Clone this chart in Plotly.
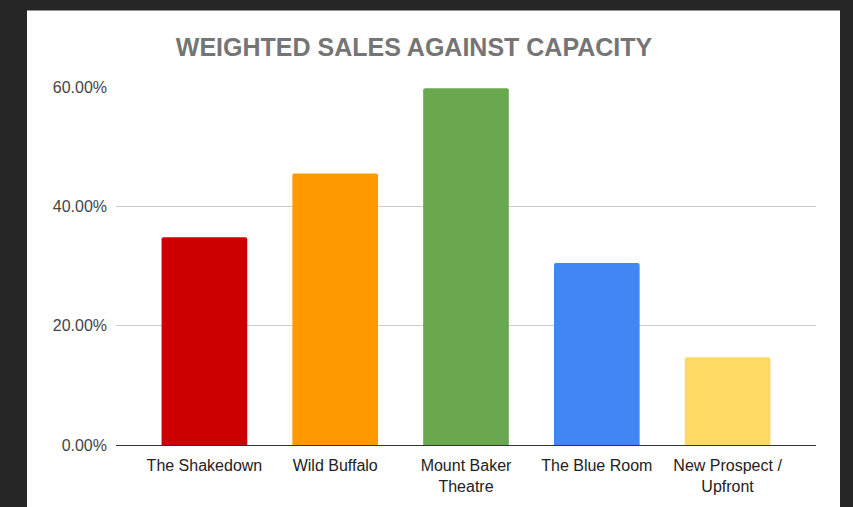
import plotly.graph_objects as go

categories = ["The Shakedown", "Wild Buffalo", "Mount Baker<br>Theatre", "The Blue Room", "New Prospect /<br>Upfront"]
values = [0.348, 0.455, 0.598, 0.305, 0.147]
colors = ["#cc0000", "#ff9900", "#6aa84f", "#4285f4", "#ffd966"]
y_ticks = [0.0, 0.2, 0.4, 0.6]

W, H = 853, 507
L, R, T, B = 116, 816, 87, 447
pw, ph = R - L, B - T

fig = go.Figure(go.Bar(
    x=categories, y=values,
    marker=dict(color=colors, line=dict(width=0), cornerradius=2),
    hoverinfo="x+y",
))

fig.update_layout(
    width=W, height=H,
    margin=dict(l=L, r=W - R, t=T, b=H - B, pad=0),
    paper_bgcolor="#262626",
    plot_bgcolor="#ffffff",
    bargap=0.345,
    showlegend=False,
    font=dict(family="Liberation Sans, Arial, sans-serif", size=16, color="#333333"),
    title=dict(
        text="<b>WEIGHTED SALES AGAINST CAPACITY</b>",
        font=dict(family="Liberation Sans, Arial, sans-serif", size=25, color="#757575"),
        x=414 / W, xref="container", xanchor="center",
        y=1 - 47 / H, yref="container", yanchor="middle",
    ),
    shapes=[dict(
        type="rect", xref="paper", yref="paper", layer="below",
        x0=(27 - L) / pw, x1=(840 - L) / pw,
        y0=(B - 520) / ph, y1=(B - 10) / ph,
        fillcolor="#ffffff", line=dict(width=0),
    )],
)

fig.update_xaxes(
    type="category", range=[-0.676, 4.676],
    showline=True, linecolor="#333333", linewidth=1,
    showgrid=False, ticks="", ticklabelstandoff=6,
    tickfont=dict(size=16, color="#222222"),
)
fig.update_yaxes(
    range=[0, 0.6], tickvals=y_ticks, tickformat=".2%",
    showgrid=True, gridcolor="#cccccc", gridwidth=1,
    zeroline=False, showline=False, ticks="",
    ticklabelstandoff=8,
    tickfont=dict(size=16, color="#444444"),
)

fig.write_html("out.html")
